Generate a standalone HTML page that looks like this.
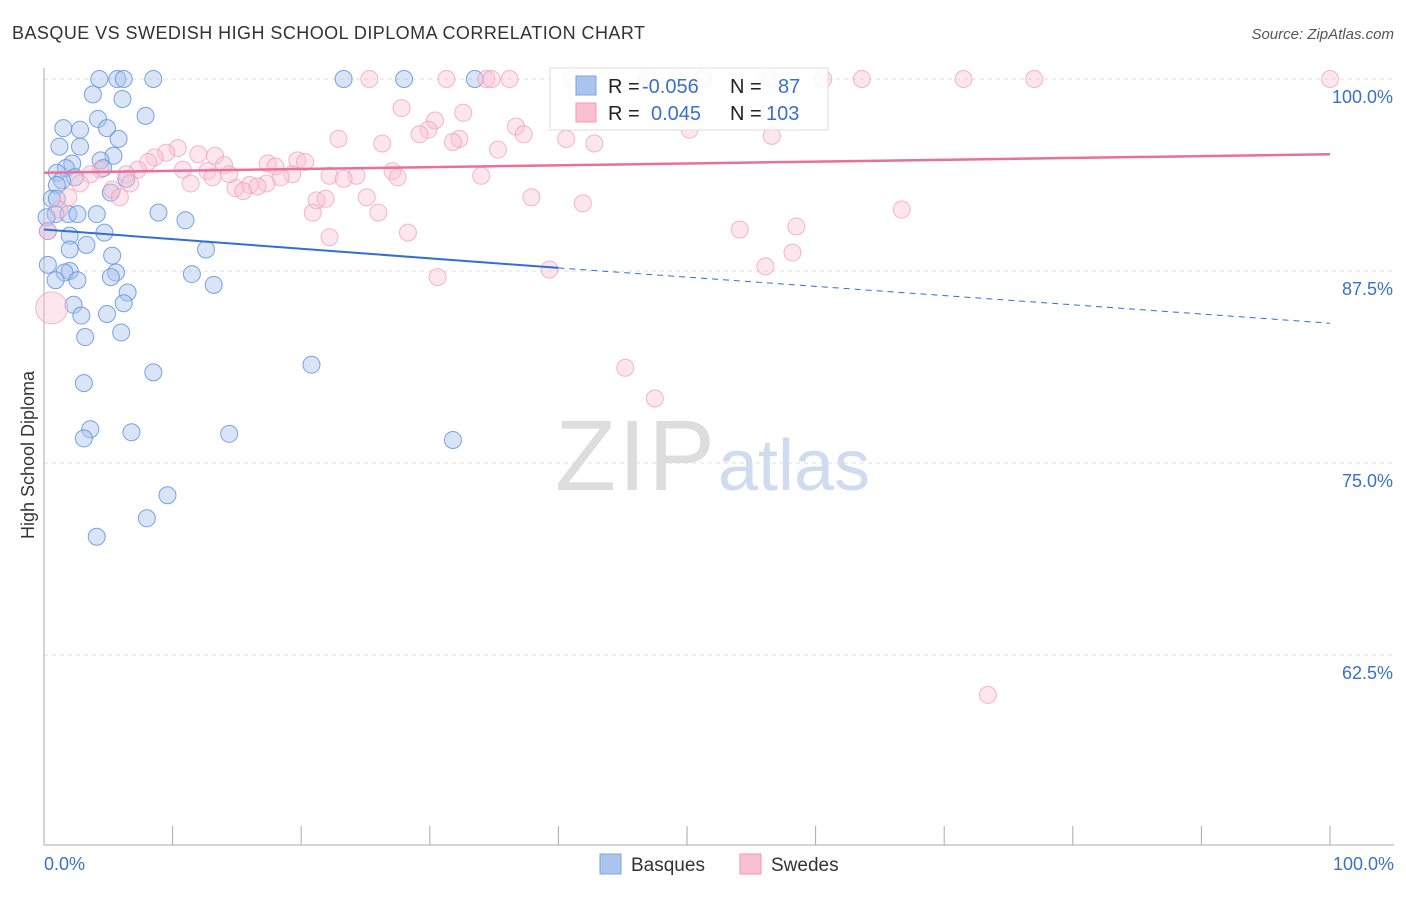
<!DOCTYPE html>
<html><head><meta charset="utf-8"><style>
body{margin:0;background:#fff;font-family:"Liberation Sans",sans-serif;}
svg text{font-family:"Liberation Sans",sans-serif;}
</style></head><body>
<svg id="chart" width="1406" height="892" xmlns="http://www.w3.org/2000/svg">
<text x="12" y="39" font-size="18" fill="#333" textLength="633">BASQUE VS SWEDISH HIGH SCHOOL DIPLOMA CORRELATION CHART</text>
<text x="1394" y="39" font-size="15" fill="#555" text-anchor="end" font-style="italic">Source: ZipAtlas.com</text>
<text x="555" y="490" font-size="100" fill="#ddd" textLength="160" font-family="Liberation Serif">ZIP</text>
<text x="718" y="490" font-size="72" fill="#cfdcf0">atlas</text>
<text transform="translate(34,455) rotate(-90)" font-size="18" fill="#333" text-anchor="middle">High School Diploma</text>
<g id="grid"></g><g id="axes"></g><g id="pts"></g><g id="trends"></g>
<g>
<rect x="550" y="68" width="278" height="62" fill="#fff" fill-opacity="0.85" stroke="#ddd"/>
<rect x="576" y="76" width="20" height="19" fill="#aac4ee" stroke="#7fa6e0"/>
<rect x="576" y="103" width="20" height="19" fill="#f9c0d2" stroke="#ee9ab6"/>
<text x="608" y="93" font-size="20" fill="#222">R =</text><text x="642" y="93" font-size="20" fill="#3a70c8">-0.056</text>
<text x="730" y="93" font-size="20" fill="#222">N =</text><text x="778" y="93" font-size="20" fill="#3a70c8">87</text>
<text x="608" y="120" font-size="20" fill="#222">R =</text><text x="651" y="120" font-size="20" fill="#3a70c8">0.045</text>
<text x="730" y="120" font-size="20" fill="#222">N =</text><text x="766" y="120" font-size="20" fill="#3a70c8">103</text>
</g>
<g>
<rect x="600" y="854" width="21" height="20" fill="#aac4ee" stroke="#7fa6e0"/>
<text x="631" y="871" font-size="19" fill="#333">Basques</text>
<rect x="740" y="854" width="21" height="20" fill="#f9c0d2" stroke="#ee9ab6"/>
<text x="771" y="871" font-size="19" fill="#333">Swedes</text>
</g>
</svg>
<script>
const yTicks=[100,87.5,75,62.5];
const yTickLabels=["100.0%","87.5%","75.0%","62.5%"];
const xTickLabels=["0.0%","100.0%"];
const blueX=[4.3,5.7,6.2,8.5,23.3,28,33.5,3.8,6.1,7.9,1.5,2.8,4.2,4.9,5.8,1.2,2.8,5.4,4.4,2.2,1.7,1,4.6,2.4,1.4,1,5.2,6.4,0.6,1,0.9,0.2,1.9,4.1,2.6,8.9,11,0.3,2,4.7,3.3,2,12.6,5.3,0.3,2,1.6,5.6,5.2,11.5,0.9,2.6,6.5,13.2,2.3,6.2,2.9,4.9,3.2,6,20.8,8.5,3.1,3.6,3.1,6.8,14.4,31.8,9.6,8,4.1];
const blueY=[100,100,100,100,100,100,100,99,98.7,97.6,96.8,96.7,97.4,96.8,96.1,95.6,95.6,95,94.7,94.5,94.2,93.9,94.2,93.6,93.4,93.1,92.6,93.5,92.2,92.2,91.2,91,91.2,91.2,91.2,91.3,90.8,90.1,89.8,90,89.2,88.9,88.9,88.5,87.9,87.5,87.4,87.4,87.1,87.3,86.9,86.9,86.1,86.6,85.3,85.4,84.6,84.7,83.2,83.5,81.4,80.9,80.2,77.2,76.6,77,76.9,76.5,72.9,71.4,70.2];
const pinkX=[25.3,31.3,34.4,34.8,36.2,41.1,46.9,51.2,56.5,60.6,63.6,71.5,77,100,27.8,32.6,30.4,29.9,29.2,36.7,37.3,22.9,26.3,32.3,31.8,35.3,40.6,42.8,50.2,56.6,10.4,9.5,12,13.3,8.6,8.1,10.8,7.3,6.4,4.4,3.6,14,12.7,17.4,18,19.7,20.3,19.3,18.4,17.3,16,14.9,15.5,16.6,11.4,13.1,14.4,22.2,24.3,23.3,27.1,27.5,34,6.7,5.3,5.9,21.2,21.9,25.1,20.9,26,37.9,41.9,66.7,54.1,58.5,22.2,28.3,58.2,56.1,39.3,30.6,0.6,45.2,47.5,73.4,2.8,1.9,1.2,0.3];
const pinkY=[100,100,100,100,100,100,100,100,100,100,100,100,100,100,98.1,97.8,97.3,96.7,96.4,96.9,96.4,96.1,95.8,96.1,95.9,95.4,96.1,95.8,96.7,96.3,95.5,95.2,95.1,95,94.9,94.6,94.1,94.1,93.8,94.1,93.8,94.4,94,94.5,94.3,94.7,94.6,93.8,93.6,93.2,93.1,92.9,92.7,93,93.2,93.6,93.8,93.7,93.7,93.5,94,93.6,93.7,93.2,92.8,92.3,92.1,92.2,92.3,91.3,91.3,92.3,91.9,91.5,90.2,90.4,89.7,90,88.7,87.8,87.6,87.1,85.1,81.2,79.2,59.9,93.2,92.3,91.5,90.1];
const blueTrend=[[0,90.2],[40,87.7],[100,84.1]];
const pinkTrend=[[0,93.9],[100,95.1]];
const X=v=>44+v*12.86, Y=v=>79+(100-v)*15.36;
const ns="http://www.w3.org/2000/svg";
function mk(t,a,p){const e=document.createElementNS(ns,t);for(const k in a)e.setAttribute(k,a[k]);document.getElementById(p).appendChild(e);return e;}
yTicks.forEach((t,i)=>{
 const l=mk('line',{x1:44,x2:1394,y1:Y(t),y2:Y(t),stroke:'#ddd','stroke-dasharray':'4,4'},'grid');
 
 
 const tx=mk('text',{x:1393,y:Y(t)+24,'font-size':18,fill:'#3a70c8','text-anchor':'end'},'axes');tx.textContent=yTickLabels[i];
 
 
});
let a=mk('line',{x1:44,x2:44,y1:68,y2:845,stroke:'#aaa'},'axes');


a=mk('line',{x1:44,x2:1394,y1:845,y2:845,stroke:'#aaa'},'axes');


for(let i=0;i<=10;i++){const t=mk('line',{x1:X(i*10),x2:X(i*10),y1:826,y2:845,stroke:'#aaa'},'axes');
 
 }
[[0,'start'],[100,'end']].forEach((d,i)=>{const t=mk('text',{x:d[0]==0?44:1394,y:870,'font-size':18,fill:'#3a70c8','text-anchor':d[1]},'axes');t.textContent=xTickLabels[i];
 
 });
blueX.forEach((v,i)=>{const c=mk('circle',{cx:X(v),cy:Y(blueY[i]),r:8.5,fill:'#aac4ee','fill-opacity':0.45,stroke:'#5a8fdc','stroke-opacity':0.8},'pts');
 
 });
pinkX.forEach((v,i)=>{const c=mk('circle',{cx:X(v),cy:Y(pinkY[i]),r:i==82?16:8.5,fill:'#f9c0d2','fill-opacity':0.4,stroke:'#ee9ab6','stroke-opacity':0.7},'pts');
 
 });
let t=mk('line',{x1:X(blueTrend[0][0]),y1:Y(blueTrend[0][1]),x2:X(blueTrend[1][0]),y2:Y(blueTrend[1][1]),stroke:'#2f6fd6','stroke-width':2},'trends');


t=mk('line',{x1:X(blueTrend[1][0]),y1:Y(blueTrend[1][1]),x2:X(blueTrend[2][0]),y2:Y(blueTrend[2][1]),stroke:'#2f6fd6','stroke-width':1,'stroke-dasharray':'6,5'},'trends');


t=mk('line',{x1:X(pinkTrend[0][0]),y1:Y(pinkTrend[0][1]),x2:X(pinkTrend[1][0]),y2:Y(pinkTrend[1][1]),stroke:'#e8709a','stroke-width':2.5},'trends');


</script>
</body></html>
